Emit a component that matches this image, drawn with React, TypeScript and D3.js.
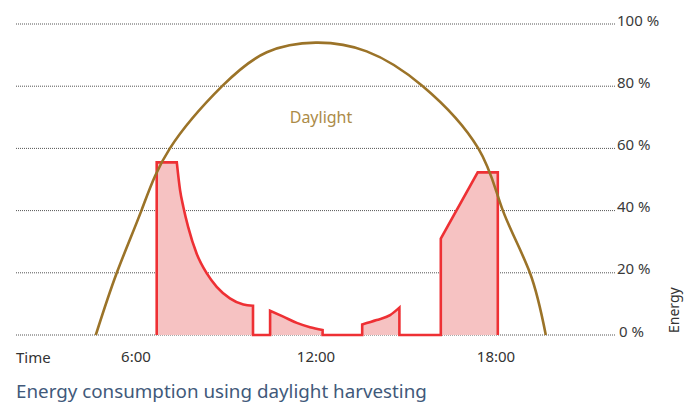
import React from "react";
import * as d3 from "d3";

// energy curve pieces, [hour, percent]
const morningStep: [number, number][] = [[6.69, 0], [6.69, 55.5], [7.36, 55.5]];
const morningDecay: [number, number][] = [
  [7.36, 55.5], [7.47, 46.5], [7.58, 41.1], [7.74, 34.7], [8.02, 26.2],
  [8.36, 19.8], [8.69, 15.5], [9.13, 11.8], [9.58, 9.8], [9.9, 9.4],
];
const firstGap: [number, number][] = [[9.9, 9.4], [9.9, 0], [10.47, 0], [10.47, 7.8]];
const noonDecay: [number, number][] = [[10.47, 7.8], [10.91, 5.9], [11.36, 3.9], [11.8, 2.5], [12.22, 1.6]];
const noonGap: [number, number][] = [[12.22, 1.6], [12.22, 0], [13.54, 0], [13.54, 3.4]];
const afternoonRise: [number, number][] = [[13.54, 3.4], [14.02, 4.8], [14.47, 6.4], [14.78, 8.8]];
const eveningBlock: [number, number][] = [
  [14.78, 8.8], [14.78, 0], [16.16, 0], [16.16, 31], [17.39, 52.3], [18.06, 52.3], [18.06, 0],
];

const daylight: [number, number][] = [
  [4.66, 0], [5.36, 20], [6.18, 40], [7.13, 60], [8.87, 80],
  [10.36, 90.9], [11.99, 94], [13.69, 91.2], [15.56, 80],
  [17.41, 60], [18.23, 40], [19.13, 20], [19.66, 0],
];

const yTicks = [0, 20, 40, 60, 80, 100];
const xTicks = [6, 12, 18];

const FONT = "'Noto Sans', sans-serif";

const x = d3.scaleLinear().domain([6, 18]).range([136, 496]);
const y = d3.scaleLinear().domain([0, 100]).range([335, 24]);

const energyPath = () => {
  const p = d3.path();
  let started = false;
  // joins the pieces into one path: later moveTo calls become lineTo
  const ctx: any = {
    moveTo: (a: number, b: number) => {
      if (started) p.lineTo(a, b);
      else { p.moveTo(a, b); started = true; }
    },
    lineTo: (a: number, b: number) => p.lineTo(a, b),
    bezierCurveTo: (a: number, b: number, c: number, d: number, e: number, f: number) =>
      p.bezierCurveTo(a, b, c, d, e, f),
    closePath: () => {},
  };
  const pieces: [[number, number][], d3.CurveFactory][] = [
    [morningStep, d3.curveLinear],
    [morningDecay, d3.curveMonotoneX],
    [firstGap, d3.curveLinear],
    [noonDecay, d3.curveMonotoneX],
    [noonGap, d3.curveLinear],
    [afternoonRise, d3.curveMonotoneX],
    [eveningBlock, d3.curveLinear],
  ];
  pieces.forEach(([pts, curve]) => {
    d3.line<[number, number]>()
      .x((d) => x(d[0]))
      .y((d) => y(d[1]))
      .curve(curve)
      .context(ctx)(pts);
  });
  return p.toString();
};

const App = () => {
  const line = energyPath();
  const dayLine =
    d3
      .line<[number, number]>()
      .x((d) => x(d[0]))
      .y((d) => y(d[1]))
      .curve(d3.curveNatural)(daylight) || "";

  return (
    <svg
      width={684}
      height={408}
      style={{ position: "absolute", left: 0, top: 0, background: "#fff" }}
      fontFamily={FONT}
    >
      {yTicks.map((t) => (
        <g key={t}>
          <line
            x1={16}
            x2={616}
            y1={y(t)}
            y2={y(t)}
            stroke="#555"
            strokeWidth={1}
            strokeDasharray="1,1"
          />
          <text x={t === 0 ? 619 : 617} y={y(t) + 1.5} fontSize={15} fill="#3a3a3a">
            {t} %
          </text>
        </g>
      ))}
      <path d={line + "Z"} fill="#f6c2c2" stroke="none" />
      <path d={line} fill="none" stroke="#ee3034" strokeWidth={2.6} strokeLinejoin="miter" />
      <path d={dayLine} fill="none" stroke="#9b7328" strokeWidth={2.6} />
      <text x={321} y={123} fontSize={16} fill="#ac8b48" textAnchor="middle">
        Daylight
      </text>
      <text x={16} y={363} fontSize={15} fill="#333">
        Time
      </text>
      {xTicks.map((t) => (
        <text key={t} x={x(t)} y={362} fontSize={15} fill="#333" textAnchor="middle">
          {t}:00
        </text>
      ))}
      <text transform="translate(679,333) rotate(-90)" fontSize={14} fill="#333">
        Energy
      </text>
      <text x={16} y={398} fontSize={18.8} fill="#41597a">
        Energy consumption using daylight harvesting
      </text>
    </svg>
  );
};

export default App;
